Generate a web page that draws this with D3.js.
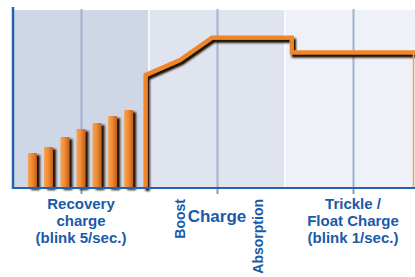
<!DOCTYPE html>
<html><head><meta charset="utf-8">
<script src="https://cdn.jsdelivr.net/npm/d3@7"></script>
<style>html,body{margin:0;padding:0;background:#fff;}svg{display:block;}</style>
</head><body><div id="chart"></div>
<script>
// ---- data ----
const regionEdges = [0, 1, 2, 3];
const regionColors = ["#cfd6e6", "#dfe4ef", "#eef1f8"];
const gridTicks = [0.5, 1.5, 2.5];
const barX = [0.143, 0.261, 0.382, 0.5, 0.618, 0.732, 0.85];
const barValues = [19.7, 23, 28.7, 33.1, 36.5, 40.4, 43.8];
const lineX = [0.975, 0.975, 1.228, 1.463, 2.05, 2.05, 2.97];
const lineY = [0, 63.5, 71.9, 84.5, 84.5, 76.2, 76.2];
const stageLabels = [
  {x: 0.5, lines: ["Recovery", "charge", "(blink 5/sec.)"]},
  {x: 2.5, lines: ["Trickle /", "Float Charge", "(blink 1/sec.)"]}
];
const mainLabel = {x: 1.5, text: "Charge"};
const rotLabels = [{x: 1.23, text: "Boost"}, {x: 1.80, text: "Absorption"}];

// ---- layout ----
const W = 415, H = 277;
const mLeft = 13, mTop = 10, mBottom = 188;
const x = d3.scaleLinear().domain([0, 3]).range([mLeft, mLeft + 136 * 3]);
const y = d3.scaleLinear().domain([0, 100]).range([mBottom, mTop]);
const barW = 0.066;
const blue = "#1b5aa8";
const font = "'Liberation Sans', Arial, Helvetica, sans-serif";

const svg = d3.select("#chart").append("svg").attr("width", W).attr("height", H);
const defs = svg.append("defs");

const bg = defs.append("linearGradient").attr("id", "barGrad").attr("x1", 0).attr("x2", 1).attr("y1", 0).attr("y2", 0);
bg.append("stop").attr("offset", "0%").attr("stop-color", "#f6a455");
bg.append("stop").attr("offset", "45%").attr("stop-color", "#f08c34");
bg.append("stop").attr("offset", "100%").attr("stop-color", "#c45e1a");

function makeShadow(id, dx, dy, blur, slope) {
  const sh = defs.append("filter").attr("id", id)
    .attr("filterUnits", "userSpaceOnUse").attr("x", 0).attr("y", 0).attr("width", W).attr("height", H);
  sh.append("feGaussianBlur").attr("in", "SourceAlpha").attr("stdDeviation", blur).attr("result", "b");
  sh.append("feOffset").attr("in", "b").attr("dx", dx).attr("dy", dy).attr("result", "o");
  sh.append("feComponentTransfer").attr("in", "o").attr("result", "c")
    .append("feFuncA").attr("type", "linear").attr("slope", slope);
  sh.append("feFlood").attr("flood-color", "#241204").attr("result", "f");
  sh.append("feComposite").attr("in", "f").attr("in2", "c").attr("operator", "in").attr("result", "s");
  const mg = sh.append("feMerge");
  mg.append("feMergeNode").attr("in", "s");
  mg.append("feMergeNode").attr("in", "SourceGraphic");
}
makeShadow("barShadow", 2.5, 2, 1.2, 1.0);
makeShadow("lineShadow", 2, 3, 1.3, 1.1);

// regions
svg.append("g").selectAll("rect").data(regionColors).join("rect")
  .attr("x", (d, i) => x(regionEdges[i]))
  .attr("y", y(100))
  .attr("width", (d, i) => x(regionEdges[i + 1]) - x(regionEdges[i]))
  .attr("height", y(0) - y(100))
  .attr("fill", d => d);
// white separators
svg.append("g").selectAll("line").data(regionEdges.slice(1, 3)).join("line")
  .attr("x1", d => x(d)).attr("x2", d => x(d))
  .attr("y1", y(100)).attr("y2", y(0))
  .attr("stroke", "#ffffff").attr("stroke-width", 1.5);

// grid + ticks
const grid = svg.append("g").attr("transform", `translate(0,${mBottom})`)
  .call(d3.axisBottom(x).tickValues(gridTicks).tickSizeInner(-(mBottom - mTop + 1)).tickSizeOuter(0).tickFormat(""));
grid.select(".domain").remove();
grid.selectAll(".tick line").attr("stroke", "#a3b0cf").attr("stroke-width", 2);
const ticks = svg.append("g").attr("transform", `translate(0,${mBottom})`)
  .call(d3.axisBottom(x).tickValues(gridTicks).tickSize(6).tickSizeOuter(0).tickFormat(""));
ticks.select(".domain").remove();
ticks.selectAll(".tick line").attr("stroke", "#8d9cc2").attr("stroke-width", 2);

// bars
svg.append("g").selectAll("rect").data(barValues).join("rect")
  .attr("x", (d, i) => x(barX[i] - barW / 2))
  .attr("y", d => y(d))
  .attr("width", x(barW) - x(0))
  .attr("height", d => y(0) - y(d))
  .attr("rx", 1)
  .attr("fill", "url(#barGrad)")
  .attr("filter", "url(#barShadow)");

// line
const pts = lineX.map((d, i) => [d, lineY[i]]);
svg.append("path").datum(pts)
  .attr("d", d3.line().x(d => x(d[0])).y(d => y(d[1])))
  .attr("fill", "none").attr("stroke", "#f0862c").attr("stroke-width", 4.2)
  .attr("stroke-linejoin", "miter").attr("filter", "url(#lineShadow)");
// thin right edge line
svg.append("line")
  .attr("x1", W - 1.5).attr("x2", W - 1.5)
  .attr("y1", y(lineY[lineY.length - 1])).attr("y2", y(0))
  .attr("stroke", "#f5a060").attr("stroke-width", 1.5);

// axes lines
svg.append("line").attr("x1", mLeft).attr("x2", W).attr("y1", mBottom).attr("y2", mBottom)
  .attr("stroke", "#2462b0").attr("stroke-width", 2);
svg.append("line").attr("x1", mLeft).attr("x2", mLeft).attr("y1", mTop - 3).attr("y2", mBottom + 1)
  .attr("stroke", "#2462b0").attr("stroke-width", 2.5);

// labels
stageLabels.forEach(l => {
  const t = svg.append("text").attr("text-anchor", "middle")
    .attr("font-family", font).attr("font-weight", "bold").attr("font-size", 15)
    .attr("fill", blue);
  l.lines.forEach((s, i) => {
    t.append("tspan").attr("x", x(l.x)).attr("y", 209 + i * 17).text(s);
  });
});
svg.append("text").attr("x", x(mainLabel.x)).attr("y", 222).attr("text-anchor", "middle")
  .attr("font-family", font).attr("font-weight", "bold").attr("font-size", 17)
  .attr("fill", blue).text(mainLabel.text);
rotLabels.forEach(l => {
  svg.append("text")
    .attr("transform", `translate(${x(l.x) + 5},199) rotate(-90)`)
    .attr("text-anchor", "end")
    .attr("font-family", font).attr("font-weight", "bold").attr("font-size", 14)
    .attr("fill", blue).text(l.text);
});
</script>
</body></html>
